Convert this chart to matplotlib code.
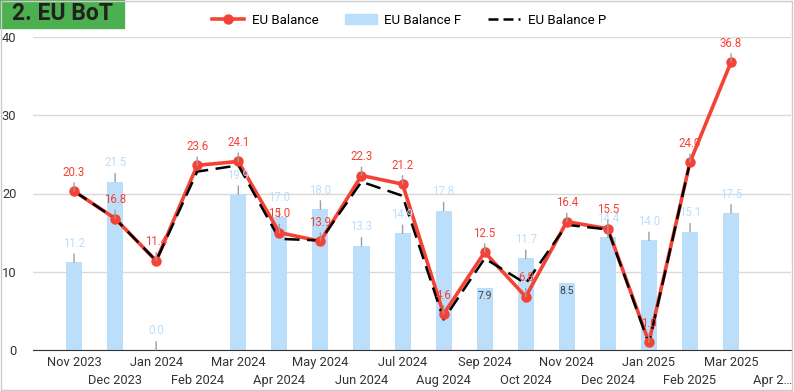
import numpy as np
import matplotlib.pyplot as plt
from matplotlib.lines import Line2D
from matplotlib.patches import Patch, Rectangle

plt.rcParams['font.family'] = ['Roboto', 'DejaVu Sans']

months = ["Nov 2023", "Dec 2023", "Jan 2024", "Feb 2024", "Mar 2024", "Apr 2024",
          "May 2024", "Jun 2024", "Jul 2024", "Aug 2024", "Sep 2024", "Oct 2024",
          "Nov 2024", "Dec 2024", "Jan 2025", "Feb 2025", "Mar 2025", "Apr 2\u2026"]
balance = [20.3, 16.8, 11.4, 23.6, 24.1, 15.0, 13.9, 22.3, 21.2, 4.6, 12.5, 6.8,
           16.4, 15.5, 1.0, 24.0, 36.8, None]
balance_f = [11.2, 21.5, 0.0, None, 19.9, 17.0, 18.0, 13.3, 14.9, 17.8, 7.9, 11.7,
             8.5, 14.4, 14.0, 15.1, 17.5, None]
balance_p = [20.3, 16.8, 11.4, 22.8, 23.6, 14.2, 14.0, 21.5, 19.7, 3.9, 11.7, 8.5,
             16.0, 15.4, 0.8, 24.0, None, None]

red = "#f44336"
blue = "#bbdefb"
grey = "#9e9e9e"

x = np.arange(len(months))
b = np.array([np.nan if v is None else v for v in balance], dtype=float)
f = np.array([np.nan if v is None else v for v in balance_f], dtype=float)
p = np.array([np.nan if v is None else v for v in balance_p], dtype=float)

fig = plt.figure(figsize=(7.94, 3.91), dpi=100)
ax = fig.add_axes([33 / 794, 41 / 391, 758 / 794, 313 / 391])

ax.bar(x, np.nan_to_num(f), width=0.39, color=blue, zorder=2)
ax.plot(x, b, color=red, lw=2.6, zorder=3)
ax.plot(x, p, color="black", lw=1.8, dashes=(6, 3), zorder=4)
ax.plot(x, b, 'o', color=red, ms=6.5, zorder=5)

# bar labels
for i, v in enumerate(f):
    if np.isnan(v):
        continue
    if 0 < v < 9:
        ax.annotate(f"{v:.1f}", (x[i], v), xytext=(0, -2), textcoords="offset points",
                    ha="center", va="top", fontsize=7.5, color="#424242", zorder=6)
    else:
        ax.annotate(f"{v:.1f}", (x[i], v), xytext=(0, 9), textcoords="offset points",
                    ha="center", va="bottom", fontsize=8.3, color=blue, zorder=6,
                    arrowprops=dict(arrowstyle="-", color=grey, lw=1, shrinkA=1, shrinkB=0))

# balance labels
for i, v in enumerate(b):
    if np.isnan(v):
        continue
    ax.annotate(f"{v:.1f}", (x[i], v), xytext=(0, 9), textcoords="offset points",
                ha="center", va="bottom", fontsize=8.3, color=red, zorder=7,
                arrowprops=dict(arrowstyle="-", color=grey, lw=1, shrinkA=1, shrinkB=0))

ax.set_xlim(-1, 17.46)
ax.set_ylim(0, 40)
ax.set_yticks([0, 10, 20, 30, 40])
ax.grid(axis="y", color="#d9d9d9", lw=1, zorder=0)
ax.set_axisbelow(True)
for s in ["top", "right", "left"]:
    ax.spines[s].set_visible(False)
ax.spines["bottom"].set_color("#333333")
ax.tick_params(axis="y", length=0, labelsize=9.3, colors="#333333", pad=12)

# two staggered rows of month labels
ax.set_xticks(x[::2])
ax.set_xticklabels(months[::2])
ax.set_xticks(x[1::2], minor=True)
ax.set_xticklabels(months[1::2], minor=True)
ax.tick_params(axis="x", which="major", length=0, labelsize=9.3, colors="#333333", pad=4)
ax.tick_params(axis="x", which="minor", length=0, labelsize=9.3, colors="#333333", pad=17)

handles = [Line2D([], [], color=red, lw=2.6, marker="o", ms=6.5),
           Patch(color=blue),
           Line2D([], [], color="black", lw=1.8, dashes=(4, 2))]
fig.legend(handles, ["EU Balance", "EU Balance F", "EU Balance P"], loc="center",
           bbox_to_anchor=(409 / 794, 1 - 20 / 391), ncol=3, frameon=False,
           fontsize=9.5, handlelength=2.4, columnspacing=2.0, handletextpad=0.6)

fig.patches.append(Rectangle((0, 1 - 28 / 391), 124 / 794, 28 / 391,
                             transform=fig.transFigure, color="#4caf50", zorder=0))
fig.text(12 / 794, 1 - 14 / 391, "2. EU BoT", fontsize=16.5, fontweight="bold",
         color="#212121", va="center", ha="left")
fig.patches.append(Rectangle((0.001, 0.003), 0.997, 0.995, transform=fig.transFigure,
                             fill=False, edgecolor="#cccccc", lw=1))

fig.savefig("out.png", dpi=100)
